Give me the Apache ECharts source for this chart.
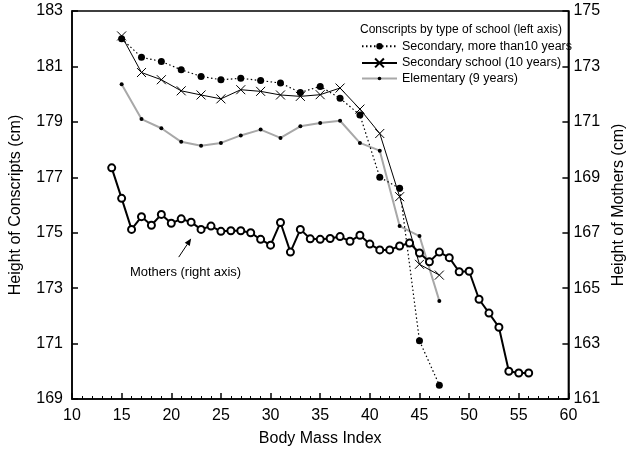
<!DOCTYPE html>
<html>
<head>
<meta charset="utf-8">
<script src="https://cdn.jsdelivr.net/npm/echarts@6/dist/echarts.min.js"></script>
<style>html,body{margin:0;padding:0;background:#fff;}#c{width:635px;height:452px;}</style>
</head>
<body>
<div id="c"></div>
<script>
const bmiConscripts = [15,17,19,21,23,25,27,29,31,33,35,37,39,41,43,45,47];
const secondaryMore10 = [182.0,181.33,181.18,180.88,180.64,180.52,180.57,180.49,180.40,180.06,180.28,179.85,179.25,177.0,176.6,171.1,169.5];
const secondary10 = [182.1,180.78,180.52,180.12,179.97,179.83,180.16,180.10,179.97,179.92,179.98,180.22,179.46,178.58,176.3,173.86,173.47];
const elementary9 = [180.36,179.1,178.77,178.28,178.14,178.24,178.51,178.72,178.42,178.84,178.96,179.04,178.24,177.96,175.24,174.88,172.54];
const bmiMothers = [14,15,16,17,18,19,20,21,22,23,24,25,26,27,28,29,30,31,32,33,34,35,36,37,38,39,40,41,42,43,44,45,46,47,48,49,50,51,52,53,54,55,56];
const mothers = [169.34,168.24,167.12,167.58,167.27,167.66,167.34,167.5,167.38,167.12,167.24,167.05,167.07,167.07,167.0,166.76,166.55,167.37,166.3,167.12,166.78,166.76,166.79,166.86,166.69,166.91,166.59,166.38,166.38,166.52,166.63,166.27,165.95,166.3,166.1,165.59,165.61,164.6,164.1,163.59,162.0,161.94,161.94];
const leftTicks = [169,171,173,175,177,179,181,183];
const rightTicks = [161,163,165,167,169,171,173,175];
const seriesNames = ['Secondary, more than10 years','Secondary school (10 years)','Elementary (9 years)'];

const FONT = 'Liberation Sans, Arial, Helvetica, sans-serif';
const pair = (xs, ys) => xs.map((x, i) => [x, ys[i]]);

const chart = echarts.init(document.getElementById('c'));
const axisCommon = {
  axisLine: {show: true, lineStyle: {color: '#000', width: 1.5}},
  axisLabel: {color: '#000', fontSize: 16, fontFamily: FONT},
  splitLine: {show: false},
  nameTextStyle: {color: '#000', fontSize: 16, fontFamily: FONT}
};
const LEG_FS = 12.5;
const legendRow = (name, center, ih) => ({
  data: [name],
  orient: 'vertical', left: 361, top: center - LEG_FS / 2,
  itemWidth: 35, itemHeight: ih,
  padding: 0,
  textStyle: {fontSize: LEG_FS, color: '#000', fontFamily: FONT}
});
chart.setOption({
  animation: false,
  backgroundColor: '#fff',
  textStyle: {fontFamily: FONT},
  title: {
    text: 'Conscripts by type of school (left axis)',
    left: 360, top: 24, padding: 0,
    textStyle: {fontSize: 12, fontWeight: 'normal', color: '#000', fontFamily: FONT}
  },
  legend: [
    legendRow(seriesNames[0], 46, 8),
    legendRow(seriesNames[1], 62.7, 11),
    legendRow(seriesNames[2], 78.3, 4.5)
  ],
  grid: {left: 70, right: 58, top: 11, bottom: 52, show: true, borderColor: '#000', borderWidth: 1.5},
  xAxis: Object.assign({}, axisCommon, {
    type: 'value', min: 10, max: 60, interval: 5,
    name: 'Body Mass Index', nameLocation: 'middle', nameGap: 32,
    axisTick: {show: true, inside: true, length: 6, lineStyle: {color: '#000', width: 1.5}},
    minorTick: {show: true, splitNumber: 5, length: 3, lineStyle: {color: '#000', width: 1}},
    axisLabel: {color: '#000', fontSize: 16, fontFamily: FONT, margin: 9}
  }),
  yAxis: [
    Object.assign({}, axisCommon, {
      type: 'value', position: 'left', min: 169, max: 183,
      name: 'Height of Conscripts (cm)', nameLocation: 'middle', nameGap: 48, nameRotate: 90,
      axisTick: {show: true, inside: true, length: 6, customValues: leftTicks, lineStyle: {color: '#000', width: 1.5}},
      axisLabel: {color: '#000', fontSize: 16, fontFamily: FONT, margin: 9, customValues: leftTicks}
    }),
    Object.assign({}, axisCommon, {
      type: 'value', position: 'right', min: 161, max: 175,
      name: 'Height of Mothers (cm)', nameLocation: 'middle', nameGap: 42, nameRotate: 90,
      axisTick: {show: true, inside: true, length: 6, customValues: rightTicks, lineStyle: {color: '#000', width: 1.5}},
      axisLabel: {color: '#000', fontSize: 16, fontFamily: FONT, margin: 5, customValues: rightTicks}
    })
  ],
  series: [
    {
      name: seriesNames[2], type: 'line', yAxisIndex: 0,
      data: pair(bmiConscripts, elementary9),
      symbol: 'circle', symbolSize: 4,
      lineStyle: {color: '#a8a8a8', width: 2},
      itemStyle: {color: '#000'}
    },
    {
      name: seriesNames[1], type: 'line', yAxisIndex: 0,
      data: pair(bmiConscripts, secondary10),
      symbol: 'path://M0,0L10,10M10,0L0,10', symbolSize: 9,
      lineStyle: {color: '#000', width: 1},
      itemStyle: {color: '#000', borderColor: '#000', borderWidth: 1}
    },
    {
      name: seriesNames[0], type: 'line', yAxisIndex: 0,
      data: pair(bmiConscripts, secondaryMore10),
      symbol: 'circle', symbolSize: 7,
      lineStyle: {color: '#000', width: 1.2, type: [1.5, 2.5]},
      itemStyle: {color: '#000'}
    },
    {
      name: 'Mothers (right axis)', type: 'line', yAxisIndex: 1,
      data: pair(bmiMothers, mothers),
      symbol: 'emptyCircle', symbolSize: 7,
      lineStyle: {color: '#000', width: 2},
      itemStyle: {color: '#000', borderColor: '#000', borderWidth: 1}
    }
  ]
});

// Annotation: "Mothers (right axis)" with arrow, positioned in data space of the right axis
const toPx = p => chart.convertToPixel({xAxisIndex: 0, yAxisIndex: 1}, p);
const tail = toPx([20.75, 166.12]);
const head = toPx([22.0, 166.79]);
const label = toPx([21.44, 165.58]);
const ang = Math.atan2(head[1] - tail[1], head[0] - tail[0]);
const L = 7, W = 3;
const bx = head[0] - L * Math.cos(ang), by = head[1] - L * Math.sin(ang);
const nx = -Math.sin(ang), ny = Math.cos(ang);
chart.setOption({
  graphic: [
    {type: 'line', shape: {x1: tail[0], y1: tail[1], x2: bx, y2: by}, style: {stroke: '#000', lineWidth: 1}},
    {type: 'polygon', shape: {points: [[head[0], head[1]], [bx + nx * W, by + ny * W], [bx - nx * W, by - ny * W]]}, style: {fill: '#000'}},
    {type: 'text', x: label[0], y: label[1], style: {text: 'Mothers (right axis)', fill: '#000', font: '13px ' + FONT, align: 'center', verticalAlign: 'middle'}}
  ]
});
</script>
</body>
</html>
